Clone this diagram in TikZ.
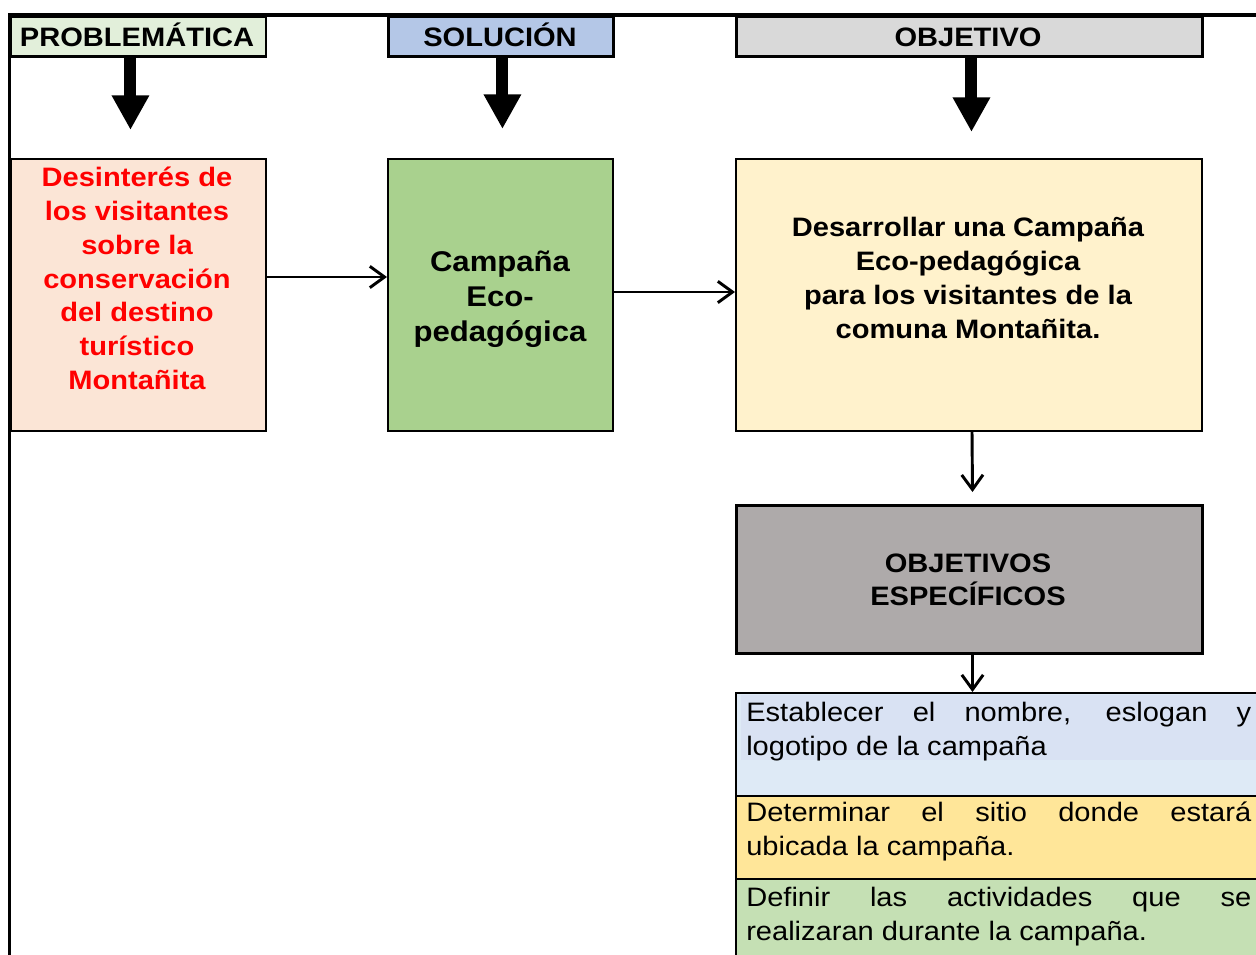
\documentclass[tikz,border=0pt]{standalone}
\usepackage{fontspec}
\setmainfont{Liberation Sans}[FakeStretch=1.09]
\usetikzlibrary{arrows.meta,calc}
\definecolor{hA}{HTML}{E2EFDA}
\definecolor{hB}{HTML}{B4C7E7}
\definecolor{hC}{HTML}{D9D9D9}
\definecolor{probF}{HTML}{FBE5D6}
\definecolor{solF}{HTML}{A9D18E}
\definecolor{objF}{HTML}{FFF2CC}
\definecolor{espF}{HTML}{AEAAAA}
\definecolor{rowA}{HTML}{DEEAF6}
\definecolor{rowAt}{HTML}{D9E2F3}
\definecolor{rowB}{HTML}{FFE699}
\definecolor{rowC}{HTML}{C5E0B4}
\definecolor{probT}{HTML}{FF0000}
\begin{document}
\begin{tikzpicture}[x=0.75pt,y=-0.75pt,
  boxnode/.style={draw=black, line width=1.5pt, inner sep=0pt, anchor=north west},
  hdrnode/.style={draw=black, line width=2.2pt, inner sep=0pt, anchor=north west, minimum height=30pt},
  conn/.style={line width=2.2pt, -{Straight Barb[length=11pt,width=16pt,line width=2.2pt]}},
  blockarrow/.style={line width=9pt, -{Triangle[length=26pt,width=26.5pt]}},
  boldtxt/.style={anchor=base, inner sep=0pt, font=\fontsize{20}{25.3}\selectfont\bfseries},
  rowtxt/.style={anchor=base west, inner sep=0pt, font=\fontsize{20}{25.5}\selectfont},
  frameline/.style={line width=2.6pt}
]
\clip (0,0) rectangle (1256,955);
\fill[white] (0,0) rectangle (1256,955);
% frame
\draw[frameline] (9.5,960) -- (9.5,15) -- (1262,15);
% headers
\node[hdrnode, fill=hA, minimum width=255*0.75pt] (h1) at (9.5,15) {};
\node[hdrnode, fill=hB, minimum width=225*0.75pt] (h2) at (387,15) {};
\node[hdrnode, fill=hC, minimum width=466*0.75pt] (h3) at (735,15) {};
\node[boldtxt] (th1) at (137,47) {PROBLEMÁTICA};
\node[boldtxt] (th2) at (500,47) {SOLUCIÓN};
\node[boldtxt] (th3) at (968,47) {OBJETIVO};
% main boxes
\node[boxnode, fill=probF, minimum width=255*0.75pt, minimum height=272*0.75pt] (prob) at (10,158) {};
\node[boxnode, fill=solF, minimum width=225*0.75pt, minimum height=272*0.75pt] (sol) at (387,158) {};
\node[boxnode, fill=objF, minimum width=466*0.75pt, minimum height=272*0.75pt] (obj) at (735,158) {};
\node[boxnode, fill=espF, line width=2.25pt, minimum width=466*0.75pt, minimum height=148*0.75pt] (esp) at (735,504) {};
\node[boldtxt, text=probT] (tprob) at (137,187) {\parbox[t]{190pt}{\centering Desinterés de\\los visitantes\\sobre la\\conservación\\del destino\\turístico\\Montañita}};
\node[boldtxt, font=\fontsize{21.4}{26}\selectfont\bfseries] (tsol) at (500,272) {\parbox[t]{165pt}{\centering Campaña\\Eco-\\pedagógica}};
\node[boldtxt] (tobj) at (968,237) {\parbox[t]{340pt}{\centering Desarrollar una Campaña\\Eco-pedagógica\\para los visitantes de la\\comuna Montañita.}};
\node[boldtxt] (tesp) at (968,572) {\parbox[t]{340pt}{\centering OBJETIVOS\\ESPECÍFICOS}};
% list rows
\node[boxnode, fill=rowA, minimum width=560*0.75pt, minimum height=103*0.75pt] (row1) at (735,692) {};
\fill[rowAt] (741,695) rectangle (1262,760);
\node[boxnode, fill=rowB, minimum width=560*0.75pt, minimum height=83*0.75pt] (row2) at (735,795) {};
\node[boxnode, fill=rowC, minimum width=560*0.75pt, minimum height=90*0.75pt] (row3) at (735,878) {};
\node[rowtxt] (tr1) at (746,721) {\parbox[t]{378.75pt}{\tolerance=10000\hyphenpenalty=10000\exhyphenpenalty=10000 Establecer el nombre, eslogan y\linebreak logotipo de la campaña}};
\node[rowtxt] (tr2) at (746,821) {\parbox[t]{378.75pt}{\tolerance=10000\hyphenpenalty=10000\exhyphenpenalty=10000 Determinar el sitio donde estará\linebreak ubicada la campaña.}};
\node[rowtxt] (tr3) at (746,906) {\parbox[t]{378.75pt}{\tolerance=10000\hyphenpenalty=10000\exhyphenpenalty=10000 Definir las actividades que se\linebreak realizaran durante la campaña.}};
% block arrows
\draw[blockarrow] ([xshift=-6pt]h1.south) -- ++(0,72);
\draw[blockarrow] ([xshift=1.1pt]h2.south) -- ++(0,71);
\draw[blockarrow] ([xshift=1.5pt]h3.south) -- ++(0,74);
% connectors
\draw[conn] ([yshift=13.5pt]prob.east) -- ([yshift=13.5pt]sol.west);
\draw[conn] ([yshift=2.25pt]sol.east) -- ([yshift=2.25pt]obj.west);
\draw[conn] ([xshift=2.25pt]obj.south) -- ([xshift=2.25pt,yshift=9pt]esp.north);
\coordinate (e4) at ([xshift=2.25pt]esp.south);
\draw[conn] (e4) -- (e4 |- row1.north);
\end{tikzpicture}
\end{document}
